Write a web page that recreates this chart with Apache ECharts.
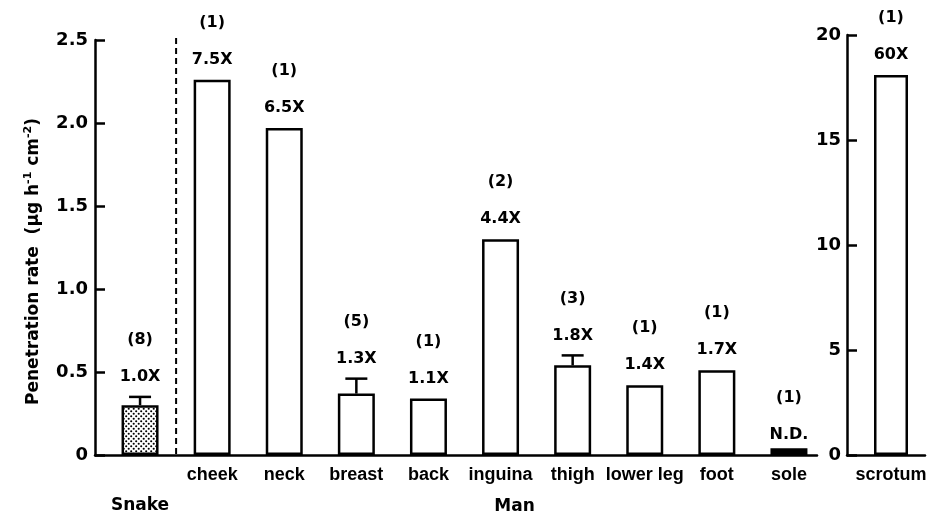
<!DOCTYPE html>
<html><head><meta charset="utf-8">
<script src="https://cdn.jsdelivr.net/npm/echarts@6/dist/echarts.min.js"></script>
<style>html,body{margin:0;padding:0;background:#fff}#chart{width:935px;height:518px}</style>
</head><body><div id="chart"></div>
<script>
// Skin penetration rate per site, snake skin vs. human skin sites
const siteLabels = ['Snake', 'cheek', 'neck', 'breast', 'back', 'inguina', 'thigh', 'lower leg', 'foot', 'sole'];
const rates      = [0.30, 2.26, 1.97, 0.37, 0.34, 1.30, 0.54, 0.42, 0.51, 0.04];
const sem        = [0.05, 0, 0, 0.09, 0, 0, 0.06, 0, 0, 0];
const nSubjects  = [8, 1, 1, 5, 1, 2, 3, 1, 1, 1];
const ratios     = ['1.0X', '7.5X', '6.5X', '1.3X', '1.1X', '4.4X', '1.8X', '1.4X', '1.7X', 'N.D.'];

// Scrotum is plotted on its own scale
const scrotumLabels = ['scrotum'];
const scrotumRates  = [18.1];
const scrotumSem    = [0];
const scrotumN      = [1];
const scrotumRatios = ['60X'];

const leftTicks  = { min: 0, max: 2.5, interval: 0.5 };
const rightTicks = { min: 0, max: 20, interval: 5 };

const FONT = '"Liberation Sans", Arial, sans-serif';
const WIDE = '"DejaVu Sans", sans-serif';
const INK = '#000';

// stippled fill for the snake bar
function dotPattern() {
  const c = document.createElement('canvas');
  c.width = 5; c.height = 5;
  const g = c.getContext('2d');
  g.fillStyle = '#fff'; g.fillRect(0, 0, 5, 5);
  g.fillStyle = '#000';
  [[1.2, 1.2], [3.7, 3.7]].forEach(p => { g.beginPath(); g.arc(p[0], p[1], 1.05, 0, Math.PI * 2); g.fill(); });
  return c;
}

function annotations(counts, ratioText) {
  return function (params, api) {
    const i = params.dataIndex;
    const cat = api.value(0), v = api.value(1), e = api.value(2);
    const x = api.coord([cat, 0])[0];
    const top = api.coord([cat, v])[1];
    const errTop = api.coord([cat, v + e])[1];
    const kids = [];
    if (e > 0) {
      kids.push({ type: 'line', shape: { x1: x, y1: top, x2: x, y2: errTop }, style: { stroke: INK, lineWidth: 2.5 } });
      kids.push({ type: 'line', shape: { x1: x - 11, y1: errTop, x2: x + 11, y2: errTop }, style: { stroke: INK, lineWidth: 2.5 } });
    }
    const notDetected = ratioText[i] === 'N.D.';
    const base = notDetected ? api.coord([cat, 0])[1] : errTop;
    const yr = base - 20;
    kids.push({ type: 'text', style: { text: ratioText[i], x: x, y: yr, align: 'center', verticalAlign: 'middle', font: 'bold 16px ' + WIDE, fill: INK } });
    kids.push({ type: 'text', style: { text: '(' + counts[i] + ')', x: x, y: yr - 37, align: 'center', verticalAlign: 'middle', font: 'bold 16px ' + WIDE, fill: INK } });
    return { type: 'group', children: kids };
  };
}

const axisLine = { show: true, lineStyle: { color: INK, width: 2.5 } };
const tickLbl = { color: INK, fontFamily: WIDE, fontWeight: 'bold', fontSize: 18 };
const catLbl = { color: INK, fontFamily: FONT, fontWeight: 'bold', fontSize: 18 };

const chart = echarts.init(document.getElementById('chart'), null, { renderer: 'canvas' });

const option = {
  backgroundColor: '#fff',
  animation: false,
  grid: [
    { left: 95, top: 40, width: 722, height: 415 },   // left axes frame
    { left: 104, top: 40, width: 721, height: 415 },  // left bars
    { left: 847, top: 35, width: 78, height: 420 },   // right axes frame
    { left: 857, top: 35, width: 68, height: 420 }    // scrotum bar
  ],
  xAxis: [
    { gridIndex: 0, type: 'value', min: 0, max: 1, axisLine: axisLine, axisTick: { show: false }, axisLabel: { show: false }, splitLine: { show: false } },
    { gridIndex: 1, type: 'category', data: siteLabels, axisLine: { show: false }, axisTick: { show: false },
      axisLabel: Object.assign({}, catLbl, { margin: 11, interval: 0,
        formatter: (v, i) => i === 0 ? '{g|' + v + '}' : v,
        rich: { g: { fontFamily: WIDE, fontWeight: 'bold', fontSize: 17, color: INK, padding: [31, 0, 0, 0] } } }) },
    { gridIndex: 2, type: 'value', min: 0, max: 1, axisLine: axisLine, axisTick: { show: false }, axisLabel: { show: false }, splitLine: { show: false } },
    { gridIndex: 3, type: 'category', data: scrotumLabels, axisLine: { show: false }, axisTick: { show: false },
      axisLabel: Object.assign({}, catLbl, { margin: 11 }) }
  ],
  yAxis: [
    { gridIndex: 0, type: 'value', min: leftTicks.min, max: leftTicks.max, interval: leftTicks.interval,
      axisLine: axisLine, axisTick: { show: true, inside: true, length: 10, lineStyle: { color: INK, width: 2.5 } },
      axisLabel: Object.assign({}, tickLbl, { margin: 7, formatter: v => v === 0 ? '0' : v.toFixed(1) }),
      splitLine: { show: false },
      name: '{t|Penetration rate  (μg h}{s|-1}{t| cm}{s|-2}{t|)}',
      nameLocation: 'middle', nameGap: 50, nameRotate: 90,
      nameTextStyle: { padding: [0, 28, 0, 0], rich: {
        t: { fontFamily: WIDE, fontWeight: 'bold', fontSize: 17, color: INK, lineHeight: 22 },
        s: { fontFamily: WIDE, fontWeight: 'bold', fontSize: 11, color: INK, lineHeight: 22, verticalAlign: 'top' } } } },
    { gridIndex: 1, type: 'value', min: leftTicks.min, max: leftTicks.max, show: false },
    { gridIndex: 2, type: 'value', min: rightTicks.min, max: rightTicks.max, interval: rightTicks.interval,
      axisLine: axisLine, axisTick: { show: true, inside: true, length: 10, lineStyle: { color: INK, width: 2.5 } },
      axisLabel: Object.assign({}, tickLbl, { margin: 6 }), splitLine: { show: false } },
    { gridIndex: 3, type: 'value', min: rightTicks.min, max: rightTicks.max, show: false }
  ],
  series: [
    { type: 'bar', xAxisIndex: 1, yAxisIndex: 1, barWidth: 37,
      itemStyle: { color: '#fff', borderColor: INK, borderWidth: 2.5 },
      data: rates.map((v, i) => {
        if (i === 0) return { value: v, itemStyle: { color: { image: dotPattern(), repeat: 'repeat' } } };
        if (ratios[i] === 'N.D.') return { value: v, itemStyle: { color: INK } };
        return v;
      }) },
    { type: 'custom', xAxisIndex: 1, yAxisIndex: 1, clip: false, z: 5,
      renderItem: annotations(nSubjects, ratios),
      data: rates.map((v, i) => [i, v, sem[i]]) },
    { type: 'bar', xAxisIndex: 3, yAxisIndex: 3, barWidth: 34,
      itemStyle: { color: '#fff', borderColor: INK, borderWidth: 2.5 },
      data: scrotumRates },
    { type: 'custom', xAxisIndex: 3, yAxisIndex: 3, clip: false, z: 5,
      renderItem: annotations(scrotumN, scrotumRatios),
      data: scrotumRates.map((v, i) => [i, v, scrotumSem[i]]) }
  ]
};
chart.setOption(option);

// dashed divider between the snake bar and the human sites, plus the "Man" group label
const xa = chart.convertToPixel({ xAxisIndex: 1 }, 0);
const xb = chart.convertToPixel({ xAxisIndex: 1 }, 1);
const yTop = chart.convertToPixel({ yAxisIndex: 1 }, leftTicks.max);
const yBase = chart.convertToPixel({ yAxisIndex: 1 }, 0);
const xMan = chart.convertToPixel({ xAxisIndex: 1 }, 5) + 14;
chart.setOption({
  graphic: [
    { type: 'line', shape: { x1: (xa + xb) / 2, y1: yTop - 2, x2: (xa + xb) / 2, y2: yBase },
      style: { stroke: INK, lineWidth: 2, lineDash: [6, 4] }, z: 10 },
    { type: 'text', x: xMan, y: yBase + 52,
      style: { text: 'Man', align: 'center', verticalAlign: 'middle', font: 'bold 17px ' + WIDE, fill: INK } }
  ]
});
</script></body></html>
